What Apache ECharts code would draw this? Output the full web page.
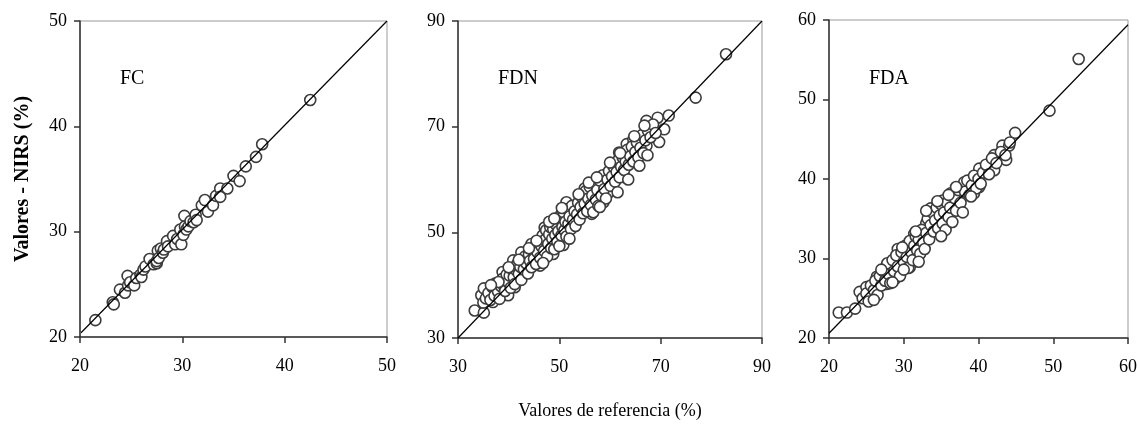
<!DOCTYPE html>
<html>
<head>
<meta charset="utf-8">
<title>NIRS vs referencia</title>
<script src="https://cdn.jsdelivr.net/npm/echarts@6/dist/echarts.min.js"></script>
<style>
  html, body { margin: 0; padding: 0; background: #fff; }
  #chart { width: 1140px; height: 425px; }
</style>
</head>
<body>
<div id="chart"></div>
<script>
// valores: [referencia, NIRS]
var fcPoints = [
  [21.5, 21.6], [23.2, 23.3], [23.3, 23.1], [23.9, 24.5], [24.4, 24.2], [24.65, 25.8],
  [24.7, 24.9], [24.9, 25.2], [25.3, 24.9], [25.5, 25.6], [25.9, 25.9], [26.0, 25.7],
  [26.2, 26.4], [26.4, 26.7], [26.8, 27.4], [27.2, 26.9], [27.5, 27.0], [27.5, 27.2],
  [27.6, 28.2], [27.7, 27.5], [27.9, 28.4], [28.1, 28.0], [28.2, 28.3], [28.5, 29.1],
  [28.6, 28.6], [29.1, 29.6], [29.3, 28.8], [29.5, 29.3], [29.8, 30.2], [29.9, 28.8],
  [30.1, 29.7], [30.2, 31.5], [30.25, 30.5], [30.4, 30.2], [30.6, 30.5], [30.8, 31.0],
  [31.1, 30.9], [31.3, 31.6], [31.4, 31.1], [31.9, 32.5], [32.2, 33.0], [32.5, 31.9],
  [33.0, 32.5], [33.3, 33.4], [33.7, 34.1], [33.7, 33.3], [34.4, 34.1], [35.0, 35.3],
  [35.6, 34.8], [36.2, 36.2], [37.2, 37.1], [37.8, 38.3], [42.5, 42.5]
];
var fdnPoints = [
  [33.3, 35.2], [35.1, 34.8], [34.6, 38.1], [35.1, 39.4], [35.0, 36.7], [37.3, 40.3],
  [36.9, 36.8], [38.8, 42.5], [39.6, 41.1], [39.9, 38.1], [40.9, 44.7], [41.2, 39.6],
  [42.5, 46.2], [43.5, 42.5], [44.5, 47.8], [46.2, 43.7], [47.1, 50.9], [48.8, 45.9],
  [49.8, 52.2], [50.4, 53.5], [51.4, 55.7], [50.8, 47.6], [53.1, 51.3], [55.0, 58.3],
  [56.4, 53.5], [58.3, 59.7], [58.7, 55.7], [59.7, 57.5], [61.8, 65.1], [63.3, 66.7],
  [63.0, 60.4], [64.6, 67.6], [65.3, 63.2], [67.2, 71.1], [67.2, 66.4], [69.4, 71.7],
  [69.7, 67.1], [70.7, 69.5], [71.6, 72.1], [76.9, 75.5], [82.9, 83.7],
  [35.5, 37.5], [36.0, 38.5], [36.4, 37.2], [36.8, 39.6], [37.2, 38.0], [37.5, 40.1],
  [37.9, 38.8], [38.2, 37.4], [38.5, 39.8], [38.8, 41.2], [39.0, 40.0], [39.3, 38.9],
  [39.6, 42.0], [39.9, 40.6], [40.2, 41.8], [40.4, 39.5], [40.7, 43.0], [41.0, 41.5],
  [41.2, 40.2], [41.5, 42.8], [41.7, 44.0], [42.0, 42.1], [42.3, 43.5], [42.5, 41.0],
  [42.8, 44.6], [43.0, 43.0], [43.2, 45.4], [43.5, 44.1], [43.8, 42.2], [44.0, 45.8],
  [44.2, 44.6], [44.5, 43.4], [44.7, 46.6], [45.0, 45.0], [45.2, 47.4], [45.4, 44.0],
  [45.7, 46.2], [46.0, 48.2], [46.2, 45.2], [46.5, 47.3], [46.7, 49.4], [47.0, 46.5],
  [47.2, 48.6], [47.4, 50.4], [47.6, 45.4], [47.8, 47.8], [48.0, 49.6], [48.2, 51.0],
  [48.4, 47.0], [48.6, 48.8], [48.8, 50.6], [49.0, 46.8], [49.2, 49.5], [49.4, 51.4],
  [49.6, 48.2], [49.8, 50.2], [50.0, 47.4], [50.2, 52.4], [50.4, 49.4], [50.6, 51.0],
  [50.8, 53.8], [51.0, 50.4], [51.2, 52.0], [51.4, 49.2], [51.6, 54.4], [51.8, 51.6],
  [52.0, 53.0], [52.3, 50.6], [52.5, 55.0], [52.7, 52.4], [53.0, 54.0], [53.2, 51.2],
  [53.5, 53.4], [53.7, 55.6], [54.0, 52.4], [54.2, 54.8], [54.5, 56.6], [54.7, 53.6],
  [55.0, 55.4], [55.2, 57.8], [55.5, 54.0], [55.7, 56.4], [56.0, 58.6], [56.2, 55.2],
  [56.5, 57.0], [56.7, 53.8], [57.0, 59.2], [57.2, 56.2], [57.5, 58.0], [57.7, 55.0],
  [58.0, 59.8], [58.3, 57.0], [58.6, 60.8], [58.9, 58.2], [59.2, 56.4], [59.5, 60.0],
  [59.8, 61.6], [60.1, 58.8], [60.4, 60.6], [60.7, 62.4], [61.0, 59.6], [61.3, 61.4],
  [61.6, 63.6], [61.9, 60.4], [62.2, 62.4], [62.5, 64.2], [62.8, 61.8], [63.1, 63.4],
  [63.4, 65.6], [63.7, 62.8], [64.0, 64.4], [64.3, 66.2], [64.6, 63.4], [65.0, 65.2],
  [65.3, 67.0], [65.6, 64.2], [66.0, 66.0], [66.3, 68.4], [66.6, 65.0], [67.0, 67.4],
  [67.5, 69.2], [68.0, 68.0], [68.5, 70.4], [69.0, 68.8],
  [44.0, 47.0], [45.5, 48.4], [46.8, 44.2], [48.0, 52.0], [49.0, 52.6], [50.5, 54.6],
  [52.0, 48.8], [53.8, 57.2], [55.8, 59.4], [57.4, 60.4], [60.0, 63.2], [62.0, 65.0],
  [64.8, 68.2], [66.8, 70.2], [42.0, 44.8], [40.0, 43.4], [38.0, 40.6], [36.5, 40.0],
  [58.0, 54.8], [61.5, 57.6], [63.6, 60.0], [65.8, 62.6], [67.4, 64.6]
];
var fdaPoints = [
  [21.3, 23.2], [22.4, 23.2], [23.5, 23.7], [24.1, 25.8], [25.0, 26.4], [25.7, 25.1],
  [26.4, 27.7], [27.7, 29.1], [27.7, 26.8], [28.8, 27.4], [29.2, 31.2], [30.8, 28.9],
  [31.4, 33.1], [33.0, 34.4], [33.6, 36.3], [35.0, 33.1], [35.2, 37.3], [36.3, 38.2],
  [37.4, 36.5], [38.1, 39.6], [39.4, 38.2], [40.1, 41.3], [40.1, 39.0], [42.1, 43.0],
  [42.1, 41.1], [43.2, 44.2], [43.7, 42.4], [44.1, 44.2], [44.9, 45.8], [49.5, 48.6],
  [53.4, 55.1],
  [24.5, 25.0], [25.0, 25.6], [25.3, 24.6], [25.6, 26.6], [26.0, 26.0], [26.2, 27.2],
  [26.5, 25.4], [26.8, 27.8], [27.0, 26.6], [27.3, 28.4], [27.5, 27.2], [27.8, 29.4],
  [28.0, 28.0], [28.2, 26.9], [28.5, 29.8], [28.7, 28.4], [29.0, 30.4], [29.2, 29.0],
  [29.5, 27.8], [29.7, 30.8], [30.0, 29.6], [30.2, 31.6], [30.4, 30.2], [30.6, 28.8],
  [30.8, 32.2], [31.0, 30.8], [31.2, 29.8], [31.4, 31.6], [31.6, 32.8], [31.8, 31.0],
  [32.0, 32.4], [32.2, 30.6], [32.4, 33.6], [32.6, 32.0], [32.8, 31.2], [33.0, 33.2],
  [33.2, 35.0], [33.4, 32.4], [33.6, 34.2], [33.8, 35.8], [34.0, 33.4], [34.2, 34.8],
  [34.4, 36.4], [34.6, 33.8], [34.8, 35.4], [35.0, 36.8], [35.2, 34.4], [35.4, 35.8],
  [35.6, 33.6], [35.8, 37.0], [36.0, 35.2], [36.2, 36.4], [36.5, 34.6], [36.8, 37.6],
  [37.0, 36.0], [37.3, 38.6], [37.6, 37.0], [37.9, 35.8], [38.2, 38.4], [38.5, 39.8],
  [38.8, 38.0], [39.1, 39.2], [39.4, 40.4], [39.7, 38.8], [40.0, 40.0], [40.3, 39.4],
  [40.6, 40.8], [41.0, 41.8], [41.4, 40.6], [41.8, 42.6], [42.4, 42.0], [43.0, 43.4],
  [43.6, 43.0], [44.2, 44.6], [27.0, 28.6], [29.8, 31.4], [31.6, 33.4], [33.0, 36.0],
  [34.5, 37.2], [36.0, 38.0], [35.0, 32.8], [32.0, 29.6], [30.0, 28.6], [37.0, 39.0],
  [39.0, 37.8], [26.0, 24.8], [28.5, 27.0]
];
// rectas de ajuste (extremos leidos)
var fcLine = [[20.1, 20.4], [50, 50]];
var fdnLine = [[30, 30], [90, 90]];
var fdaLine = [[20, 20.6], [60, 59.4]];

var panelNames = ['FC', 'FDN', 'FDA'];
var axisMin = [20, 30, 20];
var axisMax = [50, 90, 60];
var axisStep = [10, 20, 10];

var serif = '"Liberation Serif", "Times New Roman", serif';
var grids = [
  { left: 80, top: 21, width: 307, height: 316 },
  { left: 458, top: 21, width: 304, height: 318 },
  { left: 829, top: 20, width: 301, height: 318 }
];

function makeAxis(i, isX) {
  return {
    type: 'value',
    gridIndex: i,
    min: axisMin[i],
    max: axisMax[i],
    interval: axisStep[i],
    splitLine: { show: false },
    axisLine: { show: true, onZero: false, lineStyle: { color: '#333', width: 1.5 } },
    axisTick: { show: true, inside: false, length: 6, lineStyle: { color: '#333', width: 1.5 } },
    axisLabel: { color: '#000', fontFamily: serif, fontSize: 18, margin: isX ? 20 : 13 }
  };
}

var xAxes = [], yAxes = [], titles = [];
for (var i = 0; i < 3; i++) {
  grids[i].show = true;
  grids[i].borderColor = '#999';
  grids[i].borderWidth = 1;
  xAxes.push(makeAxis(i, true));
  yAxes.push(makeAxis(i, false));
  titles.push({
    text: panelNames[i],
    left: grids[i].left + 35,
    top: 64,
    textStyle: { fontFamily: serif, fontWeight: 'normal', fontSize: 20, color: '#000' }
  });
}
yAxes[0].name = 'Valores - NIRS (%)';
yAxes[0].nameLocation = 'middle';
yAxes[0].nameGap = 47;
yAxes[0].nameTextStyle = { fontFamily: serif, fontWeight: 'bold', fontSize: 20, color: '#000' };
xAxes[1].name = 'Valores de referencia (%)';
xAxes[1].nameLocation = 'middle';
xAxes[1].nameGap = 64;
xAxes[1].nameTextStyle = { fontFamily: serif, fontSize: 18, color: '#000' };

function scatter(i, data) {
  return {
    type: 'scatter', xAxisIndex: i, yAxisIndex: i, data: data,
    symbol: 'circle', symbolSize: 11, z: 2,
    itemStyle: { color: '#fff', borderColor: '#3c3c3c', borderWidth: 1.6, opacity: 1 }
  };
}
function fitLine(i, data) {
  return {
    type: 'line', xAxisIndex: i, yAxisIndex: i, data: data,
    symbol: 'none', z: 3, silent: true,
    lineStyle: { color: '#000', width: 1.2 }
  };
}

var chart = echarts.init(document.getElementById('chart'));
chart.setOption({
  animation: false,
  backgroundColor: '#fff',
  title: titles,
  grid: grids,
  xAxis: xAxes,
  yAxis: yAxes,
  series: [
    scatter(0, fcPoints), fitLine(0, fcLine),
    scatter(1, fdnPoints), fitLine(1, fdnLine),
    scatter(2, fdaPoints), fitLine(2, fdaLine)
  ]
});
</script>
</body>
</html>
